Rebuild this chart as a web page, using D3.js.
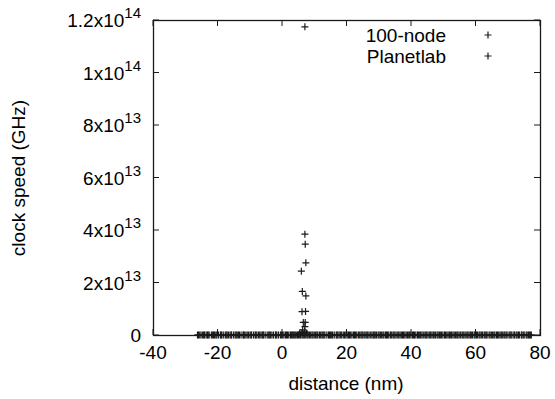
<!DOCTYPE html>
<html>
<head>
<meta charset="utf-8">
<script src="https://cdn.jsdelivr.net/npm/d3@7"></script>
<style>
  body { margin: 0; background: #fff; }
  text { font-family: "Liberation Sans", Arial, sans-serif; fill: #000; }
</style>
</head>
<body>
<div id="chart"></div>
<script>
// series names
var seriesNames = ["100-node", "Planetlab"];

// 100-node: the spike near 6-7 nm
var nodeX = [7.1, 7.1, 7.2, 7.4, 6.0, 6.3, 7.4, 6.2, 7.3, 6.6, 7.2, 7.1, 6.4, 5.9, 6.9, 7.0, 5.4, 7.6];
var nodeY = [1.174e14, 3.84e13, 3.46e13, 2.75e13, 2.43e13, 1.66e13, 1.49e13, 0.89e13, 0.9e13,
             0.48e13, 0.48e13, 0.32e13, 0.2e13, 0.1e13, 0.06e13, 0.15e13, 0.05e13, 0.08e13];

// 100-node: readings near zero
var nodeBaseX = [-25.9, -25.1, -24.3, -23.5, -22.9, -21.9, -21.2, -20.5, -19.7, -18.9, -18.2, -17.3,
  -16.6, -15.8, -15.0, -14.2, -13.5, -12.7, -11.9, -11.2, -10.4, -9.6, -8.8, -8.1, -7.3, -6.5,
  -5.8, -5.0, -4.1, -3.5, -2.6, -1.9, -1.1, -0.2, 0.6, 1.4, 2.1, 2.9, 3.5, 4.1, 4.8, 5.8, 6.5,
  7.1, 7.8, 8.5, 9.3, 10.0, 10.8, 11.6, 12.4, 13.0, 13.9, 14.7, 15.4, 16.2, 17.0, 17.7, 18.5,
  19.4, 20.2, 20.9, 21.7, 22.5, 23.2, 24.1, 24.8, 25.5, 26.3, 27.0, 27.9, 28.6, 29.3, 30.1,
  30.9, 31.6, 32.4, 33.1, 33.9, 34.7, 35.4, 36.2, 37.0, 37.7, 38.5, 39.3, 40.0, 40.8, 41.5,
  42.3, 43.0, 43.8, 44.6, 45.3, 46.1, 46.9, 47.6, 48.4, 49.2, 49.9, 50.7, 51.5, 52.2, 53.0,
  53.8, 54.5, 55.3, 56.1, 56.8, 57.6, 58.4, 59.1, 59.9, 60.6, 61.4, 62.2, 63.0, 63.6, 64.5,
  65.3, 66.0, 66.8, 67.6, 68.3, 69.1, 69.8, 70.7, 71.3, 72.1, 72.9, 73.6, 74.4, 75.1, 76.0,
  76.7, 77.3];

// Planetlab: nearly zero readings spread along the distance axis
var planetX = [-26.2, -25.5, -24.6, -24.0, -23.1, -22.6, -21.5, -20.9, -20.2, -19.1, -18.7, -17.6,
  -17.0, -16.1, -15.6, -14.5, -13.9, -13.2, -12.1, -11.7, -10.8, -9.9, -9.4, -8.3, -7.8, -6.9,
  -6.1, -5.6, -4.4, -3.8, -3.1, -2.0, -1.6, -0.5, 0.2, 1.1, 1.7, 2.6, 3.2, 3.8, 4.4, 5.1, 5.5,
  6.2, 6.8, 7.4, 8.1, 8.9, 9.6, 10.4, 11.1, 12.0, 12.7, 13.3, 14.4, 15.0, 15.7, 16.8, 17.3,
  18.1, 19.0, 19.8, 20.6, 21.3, 22.2, 22.8, 23.7, 24.5, 25.1, 26.0, 26.6, 27.5, 28.3, 28.9,
  29.8, 30.5, 31.3, 32.1, 32.7, 33.6, 34.4, 35.0, 35.9, 36.6, 37.4, 38.1, 38.9, 39.6, 40.5,
  41.1, 42.0, 42.7, 43.4, 44.3, 44.9, 45.8, 46.5, 47.2, 48.1, 48.8, 49.5, 50.4, 51.1, 51.9,
  52.6, 53.4, 54.2, 54.9, 55.8, 56.4, 57.3, 58.0, 58.7, 59.6, 60.3, 61.1, 61.8, 62.7, 63.3,
  64.2, 64.9, 65.7, 66.5, 67.2, 68.0, 68.8, 69.5, 70.4, 71.0, 71.9, 72.6, 73.3, 74.2, 74.8,
  75.7, 76.4, 77.1];

var xTicks = [-40, -20, 0, 20, 40, 60, 80];
var yTicks = [0, 2e13, 4e13, 6e13, 8e13, 1e14, 1.2e14];
var yTickMantissa = ["0", "2", "4", "6", "8", "1", "1.2"];
var yTickExponent = ["", "13", "13", "13", "13", "14", "14"];

var width = 555, height = 399;
var margin = {top: 20, right: 15, bottom: 64, left: 153};

var svg = d3.select("#chart").append("svg")
    .attr("width", width)
    .attr("height", height);

var x = d3.scaleLinear().domain([-40, 80]).range([margin.left, width - margin.right]);
var y = d3.scaleLinear().domain([0, 1.2e14]).range([height - margin.bottom, margin.top]);

var tickLen = 6;
var ink = "#1a1a1a";

// ticks, mirrored on all four sides
var g = svg.append("g");
xTicks.forEach(function(t){
  g.append("line").attr("x1", x(t)).attr("x2", x(t))
    .attr("y1", y(0)).attr("y2", y(0) - tickLen).attr("stroke", ink);
  g.append("line").attr("x1", x(t)).attr("x2", x(t))
    .attr("y1", y(1.2e14)).attr("y2", y(1.2e14) + tickLen).attr("stroke", ink);
  svg.append("text")
    .attr("x", x(t)).attr("y", y(0) + 24)
    .attr("text-anchor", "middle")
    .style("font-size", "19px")
    .text(t);
});

yTicks.forEach(function(t, i){
  g.append("line").attr("x1", x(-40)).attr("x2", x(-40) + tickLen)
    .attr("y1", y(t)).attr("y2", y(t)).attr("stroke", ink);
  g.append("line").attr("x1", x(80)).attr("x2", x(80) - tickLen)
    .attr("y1", y(t)).attr("y2", y(t)).attr("stroke", ink);
  var lbl = svg.append("text")
    .attr("x", x(-40) - 12).attr("y", y(t) + 7)
    .attr("text-anchor", "end")
    .style("font-size", "19px");
  if (yTickExponent[i] === "") {
    lbl.text(yTickMantissa[i]);
  } else {
    lbl.append("tspan").text(yTickMantissa[i] + "x10");
    lbl.append("tspan").attr("dy", -9).style("font-size", "15px").text(yTickExponent[i]);
  }
});

// border box
svg.append("rect")
  .attr("x", x(-40) + 0.5).attr("y", y(1.2e14) + 0.5)
  .attr("width", x(80) - x(-40)).attr("height", y(0) - y(1.2e14))
  .attr("fill", "none").attr("stroke", ink).attr("stroke-width", 1.3);

// plus marks
function plus(sel, px, py){
  sel.append("path")
    .attr("d", "M" + (px - 3.5) + "," + py + "H" + (px + 3.5) + "M" + px + "," + (py - 3.5) + "V" + (py + 3.5))
    .attr("stroke", ink).attr("stroke-width", 1.2).attr("fill", "none");
}

var pts = svg.append("g");
planetX.forEach(function(d){ plus(pts, x(d), y(0)); });
nodeBaseX.forEach(function(d){ plus(pts, x(d), y(0)); });
nodeX.forEach(function(d, i){ plus(pts, x(d), y(nodeY[i])); });

// legend
var legendY = [35, 56];
seriesNames.forEach(function(n, i){
  svg.append("text")
    .attr("x", 446).attr("y", legendY[i] + 7)
    .attr("text-anchor", "end")
    .style("font-size", "19px")
    .text(n);
  plus(svg, 488, legendY[i]);
});

// axis labels
svg.append("text")
  .attr("x", 346).attr("y", 390)
  .attr("text-anchor", "middle")
  .style("font-size", "19px")
  .text("distance (nm)");

svg.append("text")
  .attr("transform", "translate(25,178) rotate(-90)")
  .attr("text-anchor", "middle")
  .style("font-size", "19px")
  .text("clock speed (GHz)");
</script>
</body>
</html>
